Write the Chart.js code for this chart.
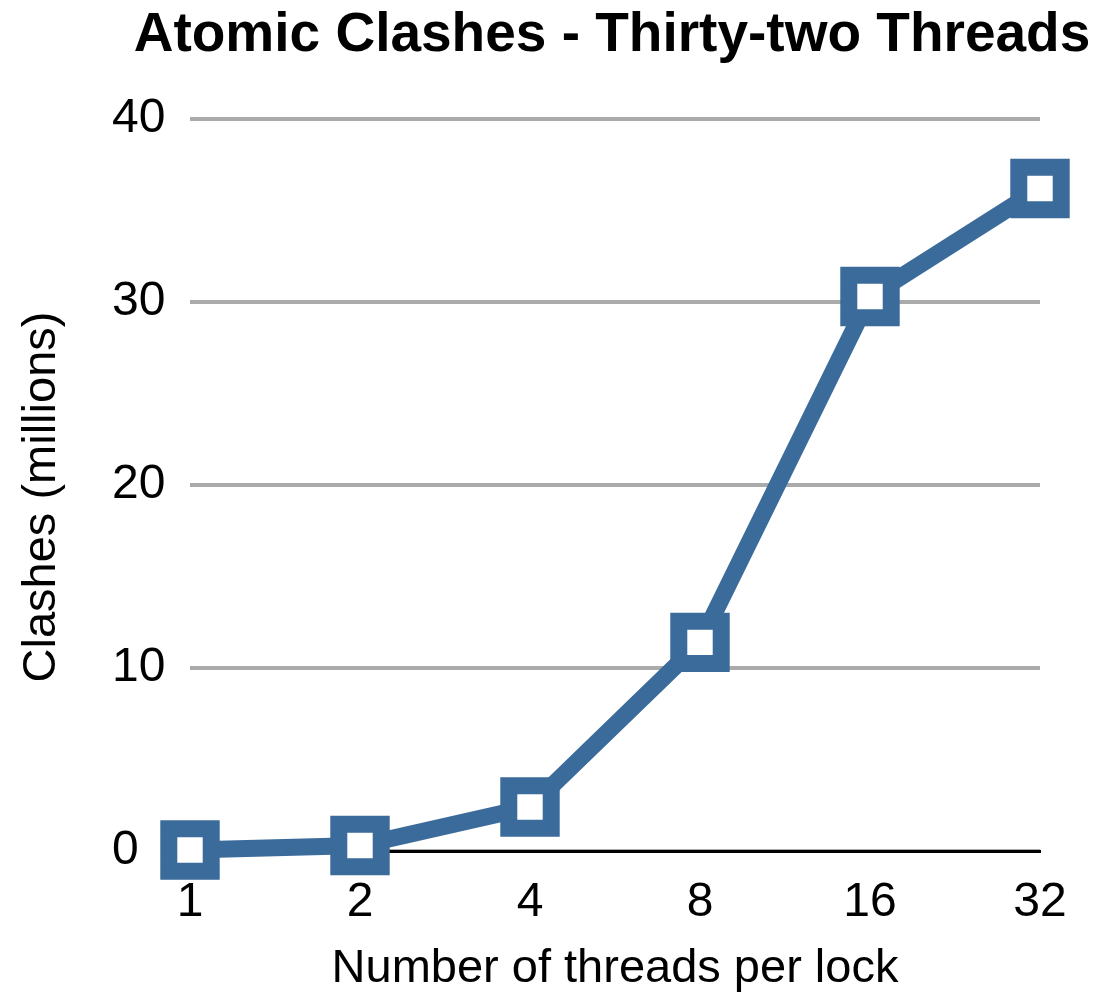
<!DOCTYPE html>
<html>
<head>
<meta charset="utf-8">
<script src="https://cdn.jsdelivr.net/npm/chart.js@4/dist/chart.umd.min.js"></script>
<style>
  html, body { margin: 0; padding: 0; background: #fff; }
  #wrap { width: 1096px; height: 997px; }
</style>
</head>
<body>
<div id="wrap"><canvas id="chart"></canvas></div>
<script>
// threads per lock (x) and clashes in millions (y)
const threadLabels = ["1", "2", "4", "8", "16", "32"];
const clashes = [0.05, 0.3, 2.4, 11.4, 30.3, 36.2];
const yTicks = [0, 10, 20, 30, 40];
const chartTitle = "Atomic Clashes - Thirty-two Threads";
const yTitle = "Clashes (millions)";

const lineColor = "#3b6b9b";
const font = "'Liberation Sans', Arial, Helvetica, sans-serif";

// main title centred over the plot area (it is wider than the plot),
// and the y axis title kept left of the left-aligned tick labels
const titles = {
  id: "titles",
  afterDraw(chart) {
    const { ctx, chartArea } = chart;
    ctx.save();
    ctx.fillStyle = "#000";
    ctx.textAlign = "center";
    ctx.textBaseline = "middle";
    ctx.font = "bold 55px " + font;
    ctx.fillText(chartTitle, (chartArea.left + chartArea.right) / 2 - 3, 36);
    ctx.translate(42, (chartArea.top + chartArea.bottom) / 2 + 12);
    ctx.rotate(-Math.PI / 2);
    ctx.font = "47px " + font;
    ctx.fillText(yTitle, 0, 0);
    ctx.restore();
  },
};

const ctx = document.getElementById("chart").getContext("2d");
new Chart(ctx, {
  type: "line",
  data: {
    labels: threadLabels,
    datasets: [
      {
        label: "Clashes",
        data: clashes,
        borderColor: lineColor,
        borderWidth: 17,
        tension: 0,
        pointStyle: "rect",
        pointRadius: 30,
        pointHoverRadius: 30,
        pointBorderWidth: 17,
        pointBorderColor: lineColor,
        pointBackgroundColor: "#fff",
        clip: false,
      },
    ],
  },
  plugins: [titles],
  options: {
    responsive: true,
    maintainAspectRatio: false,
    animation: false,
    layout: {
      autoPadding: false,
      padding: { top: 119, right: 56, bottom: 0, left: 112 },
    },
    plugins: {
      legend: { display: false },
      tooltip: { enabled: false },
      title: { display: false },
    },
    scales: {
      x: {
        offset: false,
        grid: { display: false, drawTicks: false },
        border: { display: true, color: "#000", width: 3 },
        ticks: {
          color: "#000",
          font: { family: font, size: 48 },
          padding: 23,
          maxRotation: 0,
        },
        title: {
          display: true,
          text: "Number of threads per lock",
          color: "#000",
          font: { family: font, size: 47 },
          padding: 0,
        },
        afterFit: (scale) => {
          scale.height = 146;
        },
      },
      y: {
        min: 0,
        max: 40,
        afterBuildTicks: (scale) => {
          scale.ticks = yTicks.map((v) => ({ value: v }));
        },
        grid: { color: "#aaaaaa", lineWidth: 4, drawTicks: false },
        border: { display: false },
        ticks: {
          color: "#000",
          font: { family: font, size: 48 },
          padding: 24,
          crossAlign: "far",
        },
        afterFit: (scale) => {
          scale.width = 78;
        },
      },
    },
  },
});
</script>
</body>
</html>
